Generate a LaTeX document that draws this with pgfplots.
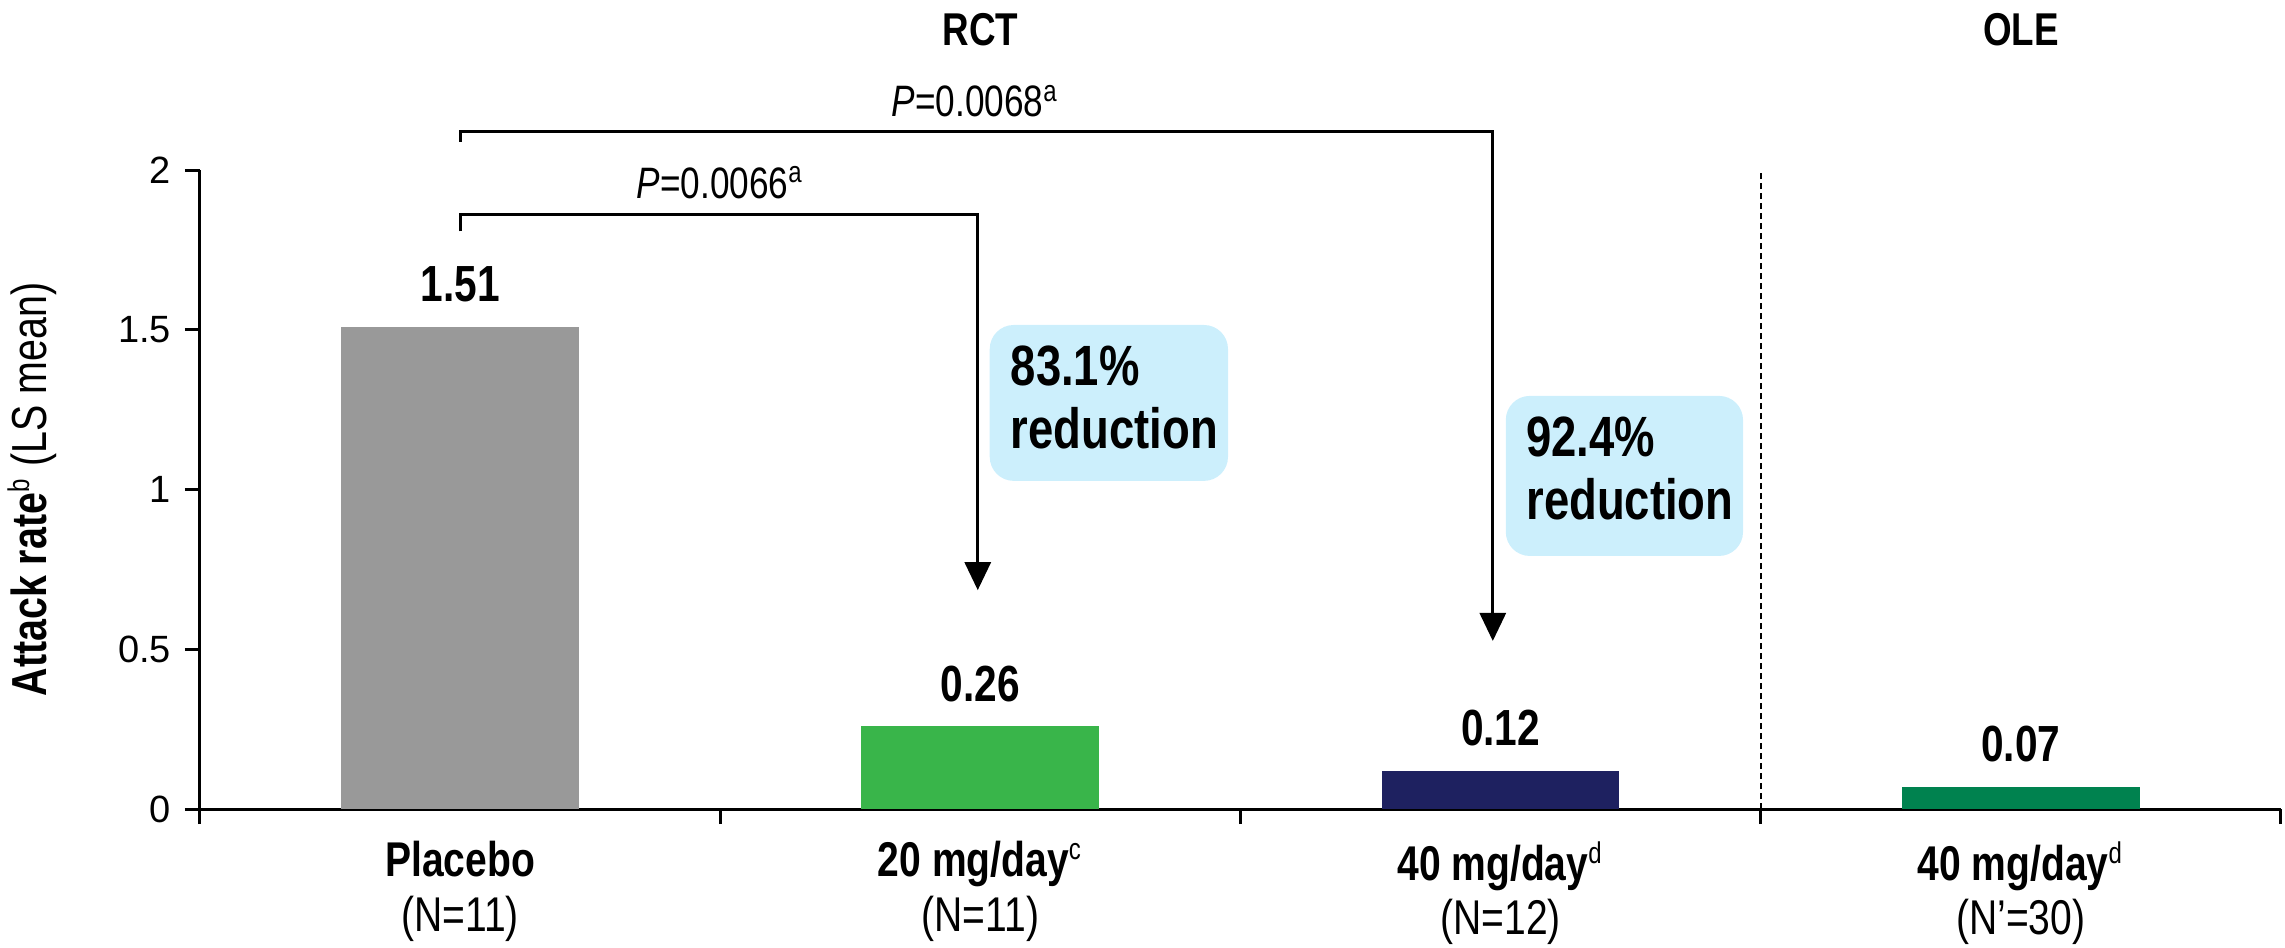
\documentclass[border=0pt]{standalone}
\usepackage{fontspec}
\setmainfont[FakeStretch=0.8]{Liberation Sans}
\newfontfamily\tickfont{Liberation Sans}
\usepackage{pgfplots}
\pgfplotsset{compat=1.18}
\usetikzlibrary{arrows.meta}
\definecolor{cgray}{HTML}{999999}
\definecolor{cgreen}{HTML}{39B54A}
\definecolor{cnavy}{HTML}{1E2160}
\definecolor{cdgreen}{HTML}{00824F}
\definecolor{cbox}{HTML}{CCEFFC}
\newcommand{\supr}[1]{\textsuperscript{\mdseries\fontsize{7.5}{8}\selectfont #1}}
\begin{document}
\begin{tikzpicture}
\path[use as bounding box] (-50pt,-34.5pt) rectangle (521.25pt,202.25pt);
\begin{axis}[
  at={(0pt,0pt)}, anchor=south west,
  scale only axis, width=520.25pt, height=159.75pt,
  xmin=-0.5, xmax=3.5, ymin=0, ymax=2,
  clip=false,
  ybar,
  axis x line*=bottom, axis y line*=left,
  axis line style={line width=0.75pt, -},
  tick align=outside,
  tick style={line width=0.75pt, black},
  major tick length=3.75pt,
  ytick={0,0.5,1,1.5,2},
  yticklabel style={font=\tickfont\fontsize{9.5}{11}\selectfont, /pgf/number format/assume math mode=true},
  xtick={-0.5,0.5,1.5,2.5,3.5}, xticklabels={},
  extra x ticks={0,1,2,3},
  extra x tick labels={{\textbf{Placebo}\\(N=11)},{\textbf{20 mg/day}\supr{c}\\(N=11)},{\textbf{40 mg/day}\supr{d}\\(N=12)},{\textbf{40 mg/day}\supr{d}\\(N'=30)}},
  extra x tick style={tick style={draw=none}, xticklabel style={align=center, anchor=north, font=\fontsize{12.2}{13.6}\selectfont, yshift=-0.8pt}},
  ylabel={\textbf{Attack rate}\supr{b} (LS mean)},
  ylabel style={font=\fontsize{12.3}{14}\selectfont, at={(axis description cs:-0.0807,0.5)}, anchor=center},
  nodes near coords, point meta=explicit symbolic,
  every node near coord/.append style={font=\bfseries\fontsize{12.7}{14}\selectfont, anchor=base, yshift=6.2pt, inner sep=0pt, text=black},
]
\addplot[bar shift=0pt, bar width=0.457, fill=cgray, draw=none] coordinates {(0,1.51) [1.51]};
\addplot[bar shift=0pt, bar width=0.457, fill=cgreen, draw=none] coordinates {(1,0.26) [0.26]};
\addplot[bar shift=0pt, bar width=0.457, fill=cnavy, draw=none] coordinates {(2,0.12) [0.12]};
\addplot[bar shift=0pt, bar width=0.457, fill=cdgreen, draw=none] coordinates {(3,0.07) [0.07]};

\draw[dash pattern=on 1.5pt off 1pt, line width=0.5pt] (axis cs:2.5,0) -- (axis cs:2.5,2);

\draw[line width=0.75pt, -{Triangle[width=6.5pt,length=7pt]}] (axis cs:0,1.808) -- (axis cs:0,1.862) -- (axis cs:0.995,1.862) -- (axis cs:0.995,0.685);
\draw[line width=0.75pt, -{Triangle[width=6.5pt,length=7pt]}] (axis cs:0,2.088) -- (axis cs:0,2.119) -- (axis cs:1.985,2.119) -- (axis cs:1.985,0.526);

\node[anchor=base, font=\fontsize{11}{12}\selectfont] at (axis cs:0.5,1.912) {\textit{P}=0.0066\supr{a}};
\node[anchor=base, font=\fontsize{11}{12}\selectfont] at (axis cs:0.99,2.166) {\textit{P}=0.0068\supr{a}};

\fill[cbox, rounded corners=6pt] (axis cs:1.018,1.027) rectangle (axis cs:1.476,1.515);
\node[anchor=base west, inner sep=0pt, font=\bfseries\fontsize{14.2}{16}\selectfont] at (axis cs:1.057,1.324) {83.1\%};
\node[anchor=base west, inner sep=0pt, font=\bfseries\fontsize{14.2}{16}\selectfont] at (axis cs:1.057,1.127) {reduction};

\fill[cbox, rounded corners=6pt] (axis cs:2.010,0.792) rectangle (axis cs:2.466,1.293);
\node[anchor=base west, inner sep=0pt, font=\bfseries\fontsize{14.2}{16}\selectfont] at (axis cs:2.048,1.102) {92.4\%};
\node[anchor=base west, inner sep=0pt, font=\bfseries\fontsize{14.2}{16}\selectfont] at (axis cs:2.048,0.905) {reduction};

\node[anchor=base, font=\bfseries\fontsize{11.5}{13}\selectfont] at (axis cs:1,2.391) {RCT};
\node[anchor=base, font=\bfseries\fontsize{11.5}{13}\selectfont] at (axis cs:3,2.391) {OLE};
\end{axis}
\end{tikzpicture}
\end{document}
